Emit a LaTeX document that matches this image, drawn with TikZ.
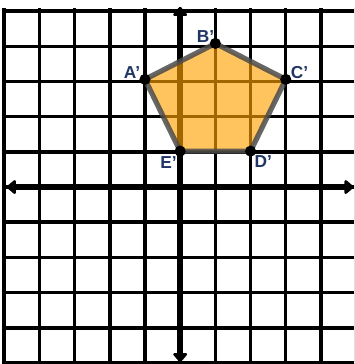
\documentclass[tikz,border=0pt]{standalone}
\usepackage{fontspec}
\setmainfont{Liberation Sans}
\usetikzlibrary{arrows.meta}
\definecolor{labelblue}{HTML}{1F3564}
\definecolor{shapefill}{HTML}{FFA200}

\begin{document}
\begin{tikzpicture}[x=1cm,y=1.0201cm,>={Triangle[round,width=13pt,length=8pt]},
  dot/.style={circle,fill=black,inner sep=0pt,minimum size=9pt},
  lbl/.style={text=labelblue,font=\bfseries\fontsize{14}{16}\selectfont,inner sep=0pt}]
\useasboundingbox (-5.12,-4.93) rectangle (4.94,5.21);
\clip (-5.12,-4.93) rectangle (4.94,5.21);
% grid
\draw[line width=2.8pt] (-5,-5) grid (5,5);
% axes
\coordinate (xl) at (-4.93,0);
\coordinate (xr) at (4.93,0);
\coordinate (yt) at (0,5.02);
\coordinate (yb) at (0,-4.88);
\draw[<->,line width=5pt] (xl) -- (xr);
\draw[<->,line width=5pt] (yb) -- (yt);
% pentagon
\coordinate (A) at (-1,3);
\coordinate (B) at (1,4);
\coordinate (C) at (3,3);
\coordinate (D) at (2,1);
\coordinate (E) at (0,1);
\fill[shapefill,fill opacity=0.63] (A) -- (B) -- (C) -- (D) -- (E) -- cycle;
\draw[black!70,line width=4.2pt,draw opacity=0.85,line join=round] (A) -- (B) -- (C) -- (D) -- (E) -- cycle;
\foreach \p in {A,B,C,D,E}
  \node[dot] (\p dot) at (\p) {};
% labels
\node[lbl,xshift=-0.37cm,yshift=0.2cm] (Alab) at (A) {A'};
\node[lbl,xshift=-0.28cm,yshift=0.2cm] (Blab) at (B) {B'};
\node[lbl,xshift=0.39cm,yshift=0.2cm] (Clab) at (C) {C'};
\node[lbl,xshift=0.36cm,yshift=-0.3cm] (Dlab) at (D) {D'};
\node[lbl,xshift=-0.33cm,yshift=-0.33cm] (Elab) at (E) {E'};
\end{tikzpicture}
\end{document}
